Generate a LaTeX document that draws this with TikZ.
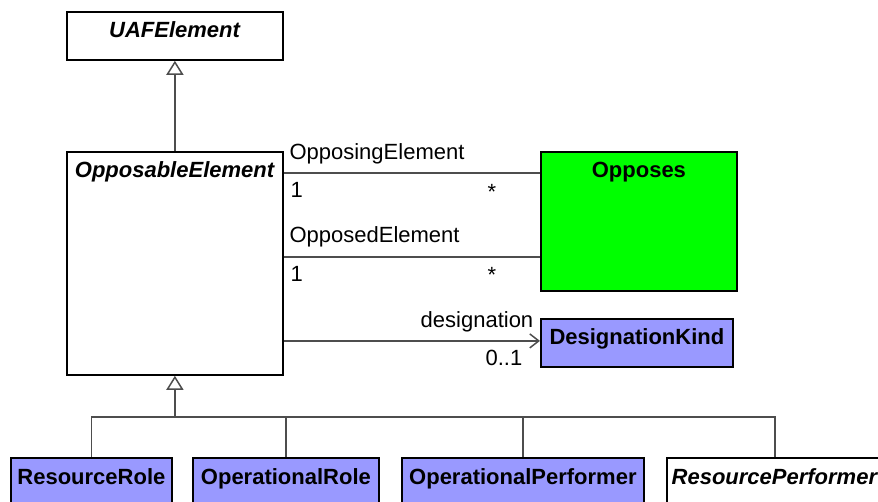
\documentclass[tikz,border=0pt]{standalone}
\usepackage{fontspec}
\setmainfont{Liberation Sans}
\usepackage{tikz}
\usetikzlibrary{arrows.meta,positioning,calc}
\definecolor{lilac}{HTML}{9999FF}
\definecolor{lime}{HTML}{00FF00}
\definecolor{wire}{HTML}{4D4D4D}
\newcommand{\umlsize}{\fontsize{22}{26}\selectfont}
\tikzset{
  cls/.style    ={draw=black,line width=1.8pt,anchor=north west,inner sep=0pt,
                  fill=white},
  clsname/.style={font=\umlsize\bfseries,anchor=base,yshift=-27pt,inner sep=0pt},
  lbl/.style    ={font=\umlsize,inner sep=0pt},
  assoc/.style  ={draw=wire,line width=1.5pt},
  gen/.style    ={draw=wire,line width=1.5pt,
                  -{Triangle[open,length=14pt,width=17pt,fill=white]}},
  nav/.style    ={draw=wire,line width=1.5pt,
                  -{Straight Barb[length=9pt,width=14pt]}},
}

\begin{document}
\begin{tikzpicture}[x=1pt,y=-1pt]
\useasboundingbox (0,0) rectangle (878,502);
\clip (0,0) rectangle (878,502);
% classes
\node[cls,minimum width=216,minimum height=48,
      label={[clsname]north:\textit{UAFElement}}] (uaf) at (66,11) {};
\node[cls,minimum width=216,minimum height=223,
      label={[clsname]north:\textit{OpposableElement}}] (opp) at (66,151) {};
\node[cls,fill=lime,minimum width=196,minimum height=139,
      label={[clsname]north:Opposes}] (opposes) at (540,151) {};
\node[cls,fill=lilac,minimum width=192,minimum height=48,
      label={[clsname]north:DesignationKind}] (dk) at (540,318) {};
% specialisations
\node[cls,fill=lilac,minimum width=161,minimum height=50,
      label={[clsname]north:ResourceRole}] (rr) at (10,457) {};
\node[cls,fill=lilac,minimum width=186,minimum height=50,
      label={[clsname]north:OperationalRole}] (orole) at (192,457) {};
\node[cls,fill=lilac,minimum width=242,minimum height=50,
      label={[clsname]north:OperationalPerformer}] (operf) at (401,457) {};
\node[cls,minimum width=216,minimum height=50,
      label={[clsname]north:\textit{ResourcePerformer}}] (rperf) at (666,457) {};
% generalisation
\draw[gen] (opp.north) -- (uaf.south);
\coordinate (fork) at ($(opp.south)+(0,41)$);
\foreach \c in {rr,orole,operf,rperf}
  \draw[assoc] (\c.north) |- (fork);
\draw[gen] (fork) -- (opp.south);
% associations
\draw[assoc] ([yshift=-22pt]opp.north east) -- ([yshift=-22pt]opposes.north west)
  node[lbl,pos=0,anchor=base west,xshift=5pt,yshift=13pt] {OpposingElement}
  node[lbl,pos=0,anchor=base west,xshift=6pt,yshift=-25pt] {1}
  node[lbl,pos=1,anchor=base east,xshift=-43pt,yshift=-27pt] {*};
\draw[assoc] ([yshift=-106pt]opp.north east) -- ([yshift=-106pt]opposes.north west)
  node[lbl,pos=0,anchor=base west,xshift=5pt,yshift=14pt] {OpposedElement}
  node[lbl,pos=0,anchor=base west,xshift=6pt,yshift=-25pt] {1}
  node[lbl,pos=1,anchor=base east,xshift=-43pt,yshift=-26pt] {*};
\coordinate (dkin) at ([yshift=2pt]dk.west);
\draw[nav] (opp.east |- dkin) -- (dkin)
  node[lbl,pos=1,anchor=base east,xshift=-6pt,yshift=13pt] {designation}
  node[lbl,pos=1,anchor=base east,xshift=-17pt,yshift=-25pt] {0..1};
\end{tikzpicture}
\end{document}
